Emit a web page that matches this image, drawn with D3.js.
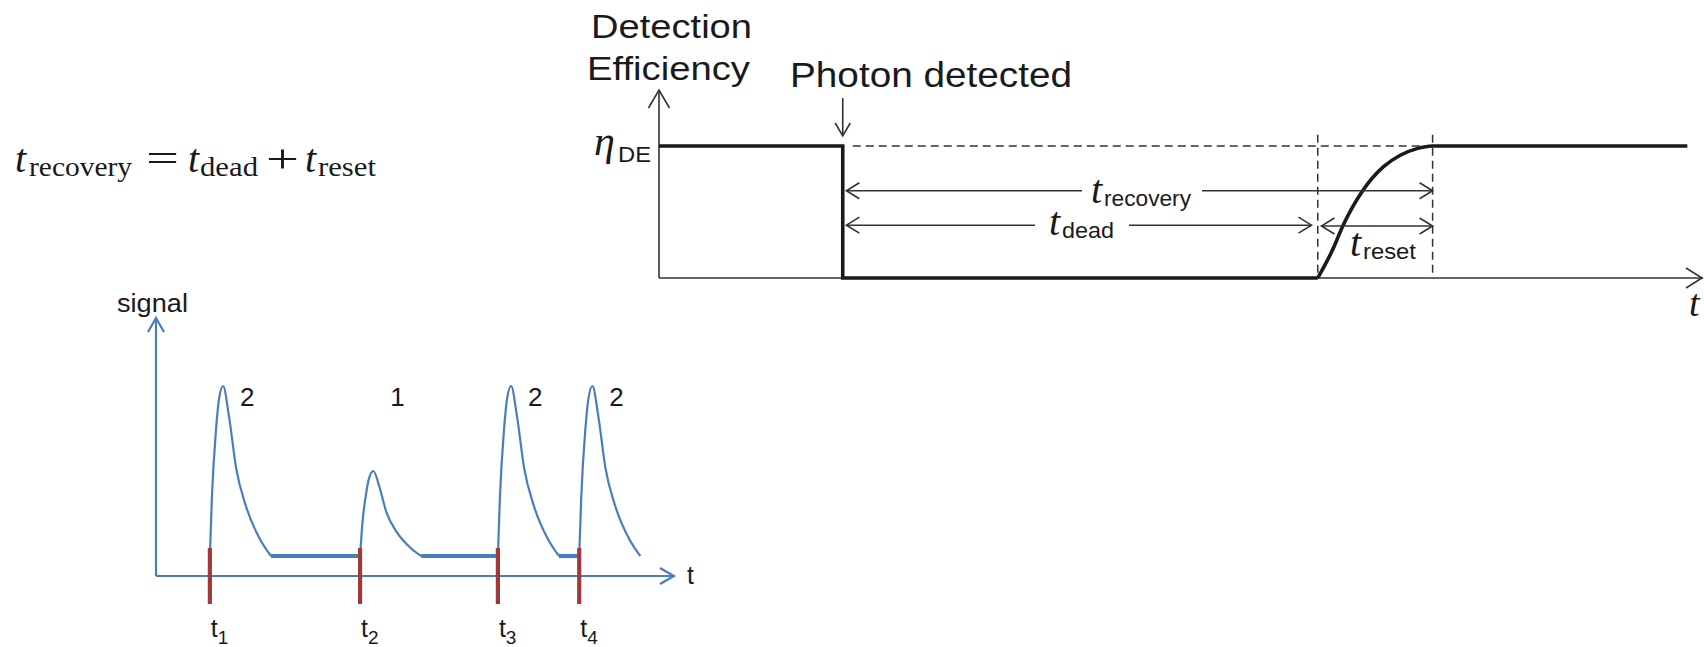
<!DOCTYPE html>
<html>
<head>
<meta charset="utf-8">
<script src="https://cdn.jsdelivr.net/npm/d3@7"></script>
<style>
  html, body { margin: 0; padding: 0; background: #fff; overflow: hidden; }
  svg { display: block; }
</style>
</head>
<body>
<svg id="fig" width="1704" height="647"></svg>
<script>
// ---------- Signal trace: photon arrivals and pulse shape ----------
const arrivalTimes  = [10.4, 39.4, 66.0, 81.7];     // t1..t4
const arrivalNames  = ["1", "2", "3", "4"];
const photonCounts  = [2, 1, 2, 2];                 // photons in each pulse
const pulseShapeDt  = [0, 0.4, 1.2, 1.75, 2.55, 3.7, 5.05, 7.0, 9.65, 11.8]; // time after arrival
const pulseShapeAmp = [0, 0.35, 0.75, 0.92, 1.0, 0.82, 0.52, 0.29, 0.10, 0]; // fraction of one-photon height
const restLevel     = 0.235;                        // signal level between pulses
const signalTimeMax = 100;
const signalLevelMax = 3.035;

// ---------- Detection efficiency vs time ----------
const tPhoton      = 17.6;   // photon detected
const tDeadEnd     = 63.1;   // end of dead time
const tRecoveryEnd = 74.1;   // full efficiency restored
const effTimeMax   = 100;
const effLevelMax  = 1.424;
const resetTimes   = [63.1, 64.5, 65.5, 67.4, 69.4, 71.0, 72.6, 74.1, 98.5];
const resetEff     = [0, 0.21, 0.394, 0.661, 0.843, 0.93, 0.98, 1.0, 1.0];

const BLUE = "#4a7ebb", RED = "#a03a3a", INK = "#1a1a1a", GREY = "#333";
const SANS = "'Liberation Sans', Arial, sans-serif";
const SERIF = "'Liberation Serif', 'Times New Roman', serif";

const svg = d3.select("#fig");

// open arrow head (chevron) at a tip, pointing in a direction
function chevron(g, x, y, dir, back, half, color, width) {
  let pts;
  if (dir === "up")    pts = [[x - half, y + back], [x, y], [x + half, y + back]];
  if (dir === "down")  pts = [[x - half, y - back], [x, y], [x + half, y - back]];
  if (dir === "right") pts = [[x - back, y - half], [x, y], [x - back, y + half]];
  if (dir === "left")  pts = [[x + back, y - half], [x, y], [x + back, y + half]];
  g.append("path").attr("d", d3.line()(pts))
    .attr("fill", "none").attr("stroke", color).attr("stroke-width", width)
    .attr("stroke-linejoin", "miter");
}

// ================= Formula =================
const formula = svg.append("g").attr("fill", INK).attr("font-family", SERIF);
function mathT(x, y, size) {
  formula.append("text").attr("x", x).attr("y", y).attr("font-size", size)
    .attr("font-style", "italic").text("t");
}
function mathSub(x, y, size, txt, len) {
  formula.append("text").attr("x", x).attr("y", y).attr("font-size", size)
    .attr("textLength", len).attr("lengthAdjust", "spacingAndGlyphs").text(txt);
}
mathT(15, 172, 40);  mathSub(29, 176, 28, "recovery", 103);
formula.append("text").attr("x", 146).attr("y", 172).attr("font-size", 40)
  .attr("textLength", 33).attr("lengthAdjust", "spacingAndGlyphs").text("=");
mathT(188, 172, 40); mathSub(200, 176, 28, "dead", 58);
formula.append("text").attr("x", 266).attr("y", 172).attr("font-size", 40)
  .attr("textLength", 33).attr("lengthAdjust", "spacingAndGlyphs").text("+");
mathT(305, 172, 40); mathSub(318, 176, 28, "reset", 58);

// ================= Signal panel =================
const sx = d3.scaleLinear().domain([0, signalTimeMax]).range([156, 674]);
const sy = d3.scaleLinear().domain([0, signalLevelMax]).range([576, 318]);
const sig = svg.append("g");

// axes
sig.append("line").attr("x1", sx(0)).attr("y1", sy(0)).attr("x2", sx(0)).attr("y2", sy(signalLevelMax))
  .attr("stroke", BLUE).attr("stroke-width", 2.2);
sig.append("line").attr("x1", sx(0)).attr("y1", sy(0)).attr("x2", sx(signalTimeMax)).attr("y2", sy(0))
  .attr("stroke", BLUE).attr("stroke-width", 2.2);
chevron(sig, sx(0), sy(signalLevelMax), "up", 14, 8, BLUE, 2.2);
chevron(sig, sx(signalTimeMax), sy(0), "right", 14, 8, BLUE, 2.2);

sig.append("text").attr("x", 117).attr("y", 312).attr("font-family", SANS).attr("font-size", 26)
  .attr("fill", INK).attr("textLength", 71).attr("lengthAdjust", "spacingAndGlyphs").text("signal");
sig.append("text").attr("x", sx(signalTimeMax) + 13).attr("y", sy(0) + 8).attr("font-family", SANS)
  .attr("font-size", 25).attr("fill", INK).text("t");

// pulses
const pulseLine = d3.line()
  .x(d => sx(d[0])).y(d => sy(d[1]))
  .curve(d3.curveMonotoneX);
arrivalTimes.forEach((t0, i) => {
  const pts = pulseShapeDt.map((dt, k) => [t0 + dt, restLevel + photonCounts[i] * pulseShapeAmp[k]]);
  sig.append("path").attr("d", pulseLine(pts)).attr("fill", "none")
    .attr("stroke", BLUE).attr("stroke-width", 2.2);
  // flat rest level until the next arrival
  if (i < arrivalTimes.length - 1) {
    const tEndPulse = t0 + pulseShapeDt[pulseShapeDt.length - 1];
    sig.append("line")
      .attr("x1", sx(tEndPulse)).attr("y1", sy(restLevel))
      .attr("x2", sx(arrivalTimes[i + 1])).attr("y2", sy(restLevel))
      .attr("stroke", BLUE).attr("stroke-width", 4.2);
  }
  // photon-number label
  sig.append("text").attr("x", sx(t0 + 7.2)).attr("y", sy(2.0)).attr("text-anchor", "middle")
    .attr("font-family", SANS).attr("font-size", 26).attr("fill", INK).text(photonCounts[i]);
});

// arrival markers and labels
arrivalTimes.forEach((t0, i) => {
  sig.append("line").attr("x1", sx(t0)).attr("x2", sx(t0))
    .attr("y1", sy(0.33)).attr("y2", sy(-0.33))
    .attr("stroke", RED).attr("stroke-width", 4.2);
  const lab = sig.append("text").attr("x", sx(t0) + 1).attr("y", 637)
    .attr("font-family", SANS).attr("fill", INK);
  lab.append("tspan").attr("font-size", 25).text("t");
  lab.append("tspan").attr("font-size", 19).attr("dy", 7).text(arrivalNames[i]);
});

// ================= Detection efficiency panel =================
const ex = d3.scaleLinear().domain([0, effTimeMax]).range([659, 1703]);
const ey = d3.scaleLinear().domain([0, effLevelMax]).range([278, 90]);
const eff = svg.append("g");

// axes
eff.append("line").attr("x1", ex(0)).attr("y1", ey(0)).attr("x2", ex(0)).attr("y2", ey(effLevelMax))
  .attr("stroke", GREY).attr("stroke-width", 1.6);
eff.append("line").attr("x1", ex(0)).attr("y1", ey(0)).attr("x2", ex(effTimeMax)).attr("y2", ey(0))
  .attr("stroke", GREY).attr("stroke-width", 1.6);
chevron(eff, ex(0), ey(effLevelMax), "up", 18, 10.5, GREY, 1.6);
chevron(eff, ex(effTimeMax) - 1, ey(0), "right", 16, 10, GREY, 1.6);

// guide lines
const dash = "8,5";
eff.append("line").attr("x1", ex(tPhoton) + 10).attr("x2", ex(tRecoveryEnd))
  .attr("y1", ey(1)).attr("y2", ey(1)).attr("stroke", GREY).attr("stroke-width", 1.5)
  .attr("stroke-dasharray", dash);
[tDeadEnd, tRecoveryEnd].forEach(t => {
  eff.append("line").attr("x1", ex(t)).attr("x2", ex(t))
    .attr("y1", ey(1.085)).attr("y2", ey(0)).attr("stroke", GREY).attr("stroke-width", 1.5)
    .attr("stroke-dasharray", dash);
});

// efficiency trace
const stepPts = [[0, 1], [tPhoton, 1], [tPhoton, 0], [tDeadEnd, 0]];
eff.append("path").attr("d", d3.line().x(d => ex(d[0])).y(d => ey(d[1]))(stepPts))
  .attr("fill", "none").attr("stroke", INK).attr("stroke-width", 3.6)
  .attr("stroke-linejoin", "miter");
const resetPts = resetTimes.map((t, i) => [t, resetEff[i]]);
eff.append("path").attr("d", d3.line().x(d => ex(d[0])).y(d => ey(d[1])).curve(d3.curveMonotoneX)(resetPts))
  .attr("fill", "none").attr("stroke", INK).attr("stroke-width", 3.6);

// "Photon detected" pointer
eff.append("line").attr("x1", ex(tPhoton)).attr("x2", ex(tPhoton)).attr("y1", 98).attr("y2", 136)
  .attr("stroke", GREY).attr("stroke-width", 1.6);
chevron(eff, ex(tPhoton), 136, "down", 13, 7.5, GREY, 1.6);

// interval arrows
function interval(t1, t2, level, gap, leftHead, rightHead) {
  const y = ey(level), x1 = ex(t1), x2 = ex(t2);
  if (gap) {
    eff.append("line").attr("x1", x1).attr("x2", gap[0]).attr("y1", y).attr("y2", y)
      .attr("stroke", GREY).attr("stroke-width", 1.6);
    eff.append("line").attr("x1", gap[1]).attr("x2", x2).attr("y1", y).attr("y2", y)
      .attr("stroke", GREY).attr("stroke-width", 1.6);
  } else {
    eff.append("line").attr("x1", x1).attr("x2", x2).attr("y1", y).attr("y2", y)
      .attr("stroke", GREY).attr("stroke-width", 1.6);
  }
  if (leftHead) chevron(eff, x1, y, "left", 13, 8, GREY, 1.6);
  if (rightHead) chevron(eff, x2, y, "right", 13, 8, GREY, 1.6);
}
interval(tPhoton + 0.35, tRecoveryEnd, 0.661, [1082, 1202], true, true);
interval(tPhoton + 0.35, tDeadEnd - 0.6, 0.40, [1035, 1129], true, true);
interval(tDeadEnd + 0.35, tRecoveryEnd, 0.394, null, true, true);

function tLabel(x, y, sub, len) {
  const g = eff.append("g").attr("fill", INK);
  g.append("text").attr("x", x).attr("y", y).attr("font-family", SERIF).attr("font-style", "italic")
    .attr("font-size", 40).text("t");
  g.append("text").attr("x", x + 13).attr("y", y + 3).attr("font-family", SANS).attr("font-size", 22)
    .attr("textLength", len).attr("lengthAdjust", "spacingAndGlyphs").text(sub);
}
tLabel(1091, 203, "recovery", 87);
tLabel(1049, 235, "dead", 52);
tLabel(1350, 256, "reset", 53);

// labels
eff.append("text").attr("x", 591).attr("y", 38).attr("font-family", SANS).attr("font-size", 33)
  .attr("fill", INK).attr("textLength", 161).attr("lengthAdjust", "spacingAndGlyphs").text("Detection");
eff.append("text").attr("x", 587).attr("y", 80).attr("font-family", SANS).attr("font-size", 33)
  .attr("fill", INK).attr("textLength", 163).attr("lengthAdjust", "spacingAndGlyphs").text("Efficiency");
eff.append("text").attr("x", 790).attr("y", 87).attr("font-family", SANS).attr("font-size", 35)
  .attr("fill", INK).attr("textLength", 282).attr("lengthAdjust", "spacingAndGlyphs").text("Photon detected");
eff.append("text").attr("x", 594).attr("y", 155).attr("font-family", SERIF).attr("font-style", "italic")
  .attr("font-size", 42).attr("fill", INK).text("η");
eff.append("text").attr("x", 618).attr("y", 162).attr("font-family", SANS).attr("font-size", 22)
  .attr("fill", INK).attr("textLength", 33).attr("lengthAdjust", "spacingAndGlyphs").text("DE");
eff.append("text").attr("x", 1689).attr("y", 316).attr("font-family", SERIF).attr("font-style", "italic")
  .attr("font-size", 38).attr("fill", INK).text("t");
</script>
</body>
</html>
